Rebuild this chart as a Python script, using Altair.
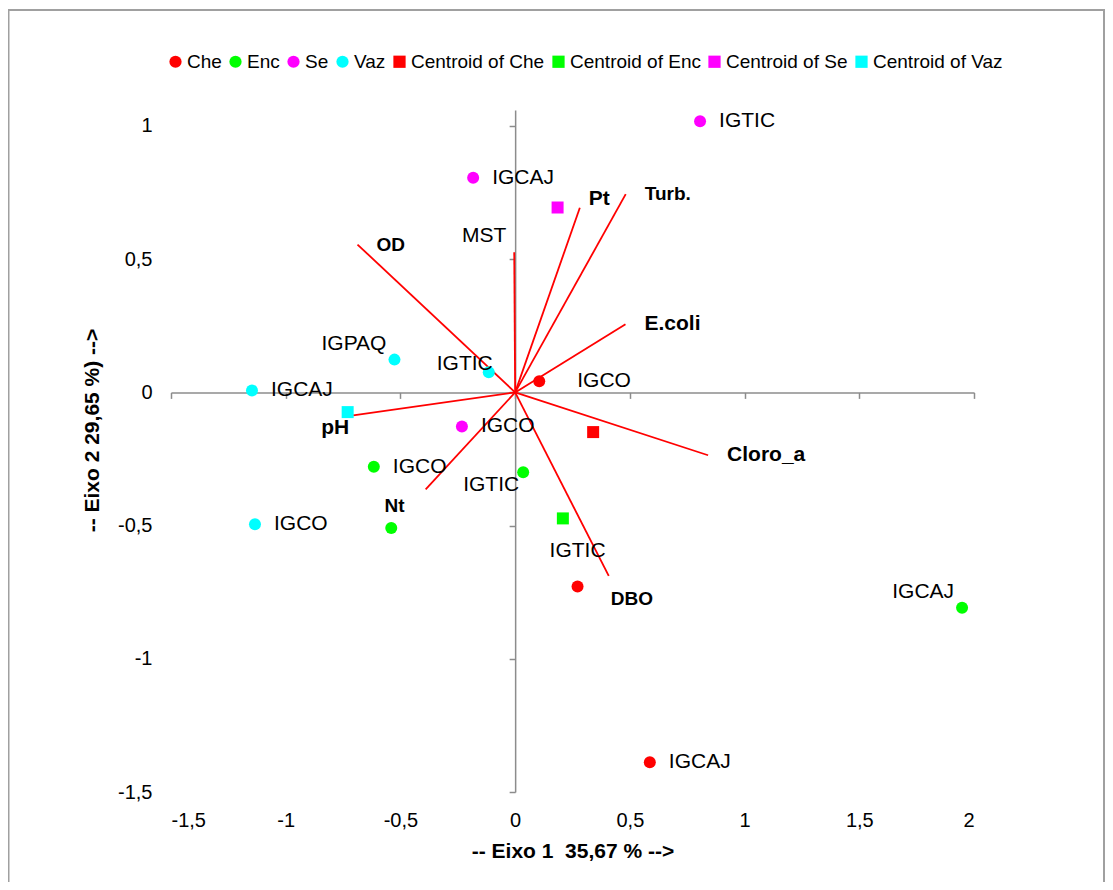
import altair as alt
import pandas as pd

# ---------------- data ----------------
obs_group = ["Che", "Che", "Che", "Enc", "Enc", "Enc", "Enc",
             "Se", "Se", "Se", "Vaz", "Vaz", "Vaz", "Vaz"]
obs_label = ["IGCO", "IGTIC", "IGCAJ", "IGCO", "IGTIC", "IGCAJ", "",
             "IGCAJ", "IGTIC", "IGCO", "IGPAQ", "IGTIC", "IGCAJ", "IGCO"]
obs_x = [0.105, 0.272, 0.587, -0.616, 0.035, 1.948, -0.540,
         -0.183, 0.806, -0.232, -0.526, -0.115, -1.147, -1.134]
obs_y = [0.042, -0.729, -1.388, -0.279, -0.300, -0.808, -0.509,
         0.806, 1.018, -0.128, 0.123, 0.076, 0.0075, -0.495]
obs_pos = ["right_far", "above", "right", "right", "below_left", "above_left", "right",
           "right", "right", "right", "above_left", "above_left_near", "right", "right"]

centroid_group = ["Che", "Enc", "Se", "Vaz"]
centroid_x = [0.340, 0.208, 0.185, -0.730]
centroid_y = [-0.149, -0.473, 0.694, -0.074]

var_names = ["OD", "MST", "Pt", "Turb.", "E.coli", "Cloro_a", "DBO", "Nt", "pH"]
var_x = [-0.687, -0.004, 0.282, 0.482, 0.481, 0.841, 0.408, -0.390, -0.706]
var_y = [0.555, 0.526, 0.693, 0.744, 0.256, -0.236, -0.689, -0.364, -0.086]
var_pos = ["right", "above_left", "upper_right", "right", "right", "right",
           "below_right", "below_left_far", "below_left"]

x_ticks = [-1.5, -1, -0.5, 0, 0.5, 1, 1.5, 2]
y_ticks = [-1.5, -1, -0.5, 0, 0.5, 1]
x_domain = [-1.5, 2]
y_domain = [-1.5, 1.06]

x_title = "-- Eixo 1 \u00a035,67 % -->"
y_title = "-- Eixo 2 29,65 %) -->"

series_order = ["Che", "Enc", "Se", "Vaz",
                "Centroid of Che", "Centroid of Enc", "Centroid of Se", "Centroid of Vaz"]
series_colors = ["#FF0000", "#00FF00", "#FF00FF", "#00FFFF"] * 2
series_shapes = ["circle"] * 4 + ["square"] * 4

# ---------------- styling / layout ----------------
FONT = "Liberation Sans, Arial, sans-serif"
GRAY = "#8C8C8C"
W, H = 803, 682
PAD_L, PAD_T, PAD_R, PAD_B = 163, 102, 131, 90

POS = {
    "right": dict(align="left", dx=19, dy=0),
    "right_far": dict(align="left", dx=38, dy=0),
    "above": dict(align="center", dx=0, dy=-36),
    "above_left": dict(align="right", dx=-8, dy=-16),
    "above_left_near": dict(align="right", dx=4, dy=-8),
    "below_left": dict(align="right", dx=-4, dy=13),
    "below_left_far": dict(align="right", dx=-21, dy=17),
    "upper_right": dict(align="left", dx=9, dy=-9),
    "below_right": dict(align="left", dx=2, dy=23),
}
NORMAL_WEIGHT_VARS = {"MST"}
SMALL_VARS = {"OD", "DBO", "Turb.", "Nt"}

xs = alt.Scale(domain=x_domain, nice=False, zero=False)
ys = alt.Scale(domain=y_domain, nice=False, zero=False)

x_zero_offset = -H * (0 - y_domain[0]) / (y_domain[1] - y_domain[0])
y_zero_offset = -W * (0 - x_domain[0]) / (x_domain[1] - x_domain[0])
label_expr = "replace(toString(datum.value), '.', ',')"

obs = pd.DataFrame({"series": obs_group, "label": obs_label,
                    "x": obs_x, "y": obs_y, "pos": obs_pos})
cen = pd.DataFrame({"series": ["Centroid of " + g for g in centroid_group],
                    "x": centroid_x, "y": centroid_y})
pts = pd.concat([obs[["series", "x", "y"]], cen], ignore_index=True)
vars_df = pd.DataFrame({"name": var_names, "x": var_x, "y": var_y, "pos": var_pos})

# border of the chart area
border = alt.Chart(alt.Data(values=[{}])).mark_rect(
    fill="white", fillOpacity=0, stroke="#A0A0A0", strokeWidth=2
).encode(
    x=alt.value(-162.5), x2=alt.value(W + 130),
    y=alt.value(-100), y2=alt.value(H + PAD_B + 20),
)

# loading vectors, carrying the axis lines through the origin
arrows = alt.Chart(vars_df).mark_rule(color="#FF0000", strokeWidth=1.8).encode(
    x=alt.X("x:Q", scale=xs, axis=alt.Axis(
        orient="bottom", offset=x_zero_offset, values=x_ticks, labels=False,
        domain=True, ticks=True, tickSize=6, grid=False, title=None,
        domainColor=GRAY, tickColor=GRAY, domainWidth=1.5, tickWidth=1.5, zindex=0)),
    y=alt.Y("y:Q", scale=ys, axis=alt.Axis(
        orient="left", offset=y_zero_offset, values=y_ticks, labels=False,
        domain=True, ticks=True, tickSize=6, grid=False, title=None,
        domainColor=GRAY, tickColor=GRAY, domainWidth=1.5, tickWidth=1.5, zindex=0)),
    x2=alt.X2(datum=0),
    y2=alt.Y2(datum=0),
)

legend = alt.Legend(
    orient="none", legendX=-5, legendY=-58, direction="horizontal", title=None,
    labelFont=FONT, labelFontSize=19, labelColor="black", symbolSize=150,
    labelOffset=2, columnPadding=4, symbolStrokeWidth=0, padding=0, labelLimit=0,
)

points = alt.Chart(pts).mark_point(filled=True, opacity=1, size=144, strokeWidth=0).encode(
    x=alt.X("x:Q", scale=xs, axis=alt.Axis(
        orient="bottom", values=x_ticks, labelExpr=label_expr, domain=False, ticks=False,
        grid=False, labelPadding=18, labelFont=FONT, labelFontSize=20, labelColor="black",
        title=x_title, titleFont=FONT, titleFontSize=21, titleFontWeight="bold",
        titleColor="black", titleY=59, titleBaseline="middle")),
    y=alt.Y("y:Q", scale=ys, axis=alt.Axis(
        orient="left", values=y_ticks, labelExpr=label_expr, domain=False, ticks=False,
        grid=False, labelPadding=19, labelFont=FONT, labelFontSize=20, labelColor="black",
        title=y_title, titleFont=FONT, titleFontSize=21, titleFontWeight="bold",
        titleColor="black", titleX=-79, titleY=320, titleAngle=270,
        titleAlign="center", titleBaseline="middle")),
    color=alt.Color("series:N", scale=alt.Scale(domain=series_order, range=series_colors),
                    legend=legend, sort=series_order),
    shape=alt.Shape("series:N", scale=alt.Scale(domain=series_order, range=series_shapes),
                    legend=legend, sort=series_order),
)

layers = [border, arrows, points]

for pos, spec in POS.items():
    sub = obs[(obs["pos"] == pos) & (obs["label"] != "")]
    if len(sub) == 0:
        continue
    layers.append(
        alt.Chart(sub).mark_text(font=FONT, fontSize=21, color="black",
                                 baseline="middle", **spec).encode(
            x=alt.X("x:Q", scale=xs, axis=None),
            y=alt.Y("y:Q", scale=ys, axis=None),
            text="label:N",
        )
    )

for name, pos in zip(var_names, var_pos):
    layers.append(
        alt.Chart(vars_df).transform_filter(alt.datum.name == name).mark_text(
            font=FONT,
            fontSize=19 if name in SMALL_VARS else 21,
            fontWeight="normal" if name in NORMAL_WEIGHT_VARS else "bold",
            color="black", baseline="middle", **POS[pos]
        ).encode(
            x=alt.X("x:Q", scale=xs, axis=None),
            y=alt.Y("y:Q", scale=ys, axis=None),
            text="name:N",
        )
    )

chart = alt.layer(*layers).resolve_axis(x="independent", y="independent").properties(
    width=W, height=H,
    autosize=alt.AutoSizeParams(type="none"),
    padding={"left": PAD_L, "top": PAD_T, "right": PAD_R, "bottom": PAD_B},
    background="white",
).configure_view(stroke=None)

chart.save("out.html", embed_options={"renderer": "svg", "actions": False})
